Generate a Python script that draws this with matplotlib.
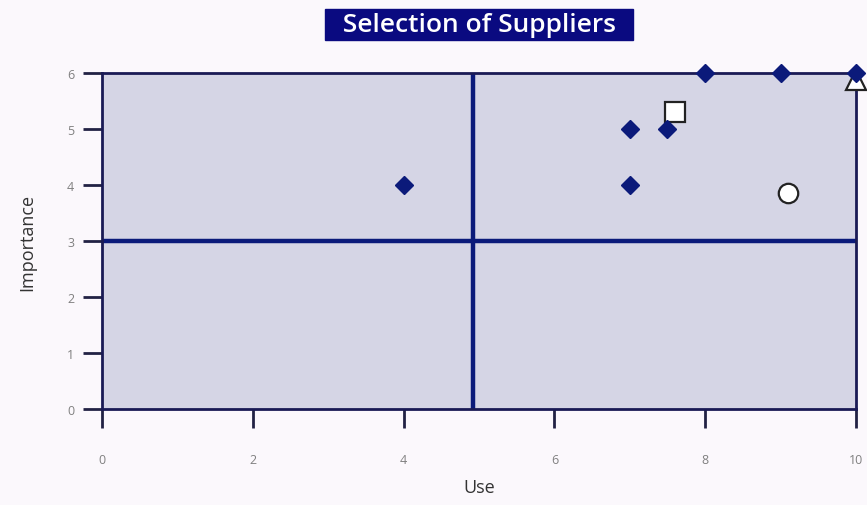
import matplotlib.pyplot as plt

plt.rcParams['font.family'] = ['Open Sans', 'DejaVu Sans']

# data
use_diamond = [4, 7, 7, 7.5, 8, 9, 10]
imp_diamond = [4, 5, 4, 5, 6, 6, 6]
use_square, imp_square = [7.6], [5.3]
use_circle, imp_circle = [9.1], [3.85]
use_triangle, imp_triangle = [10], [5.88]
split_use = 4.92
split_imp = 3
xticks = [0, 2, 4, 6, 8, 10]
yticks = [0, 1, 2, 3, 4, 5, 6]

navy = '#0b1a7a'

fig = plt.figure(figsize=(8.67, 5.06), dpi=100)
fig.patch.set_facecolor('#fbf8fc')
ax = fig.add_axes([0.1176, 0.1897, 0.8697, 0.6641])
ax.set_facecolor('#d5d5e5')

ax.axvline(split_use, color=navy, lw=3.2, zorder=2)
ax.axhline(split_imp, color=navy, lw=3.2, zorder=2)

ax.plot(use_diamond, imp_diamond, 'D', color=navy, ms=9, zorder=5, clip_on=False)
ax.plot(use_square, imp_square, 's', mfc='white', mec='#222222', mew=1.6, ms=14, zorder=4)
ax.plot(use_circle, imp_circle, 'o', mfc='white', mec='#222222', mew=1.6, ms=14, zorder=4)
ax.plot(use_triangle, imp_triangle, '^', mfc='white', mec='#222222', mew=1.6, ms=15,
        zorder=4, clip_on=False)

ax.set_xlim(0, 10)
ax.set_ylim(0, 6)
ax.set_xticks(xticks)
ax.set_yticks(yticks)
for s in ax.spines.values():
    s.set_color('#1a1a55')
    s.set_linewidth(2)
ax.tick_params(axis='both', direction='out', length=14, width=2, color='#222244',
               labelsize=9, labelcolor='#808080')
ax.tick_params(axis='x', pad=18)
ax.tick_params(axis='y', pad=6)

ax.set_xlabel('Use', fontsize=13, color='#333333', labelpad=8)
ax.set_ylabel('Importance', fontsize=13, color='#333333', labelpad=22)
ax.set_title('  Selection of Suppliers  ', fontsize=19, fontweight='semibold', color='white',
             pad=30, bbox=dict(boxstyle='square,pad=0.12', fc='#0a0a80', ec='#0a0a80'))

fig.savefig('out.png', dpi=100, facecolor=fig.get_facecolor())
